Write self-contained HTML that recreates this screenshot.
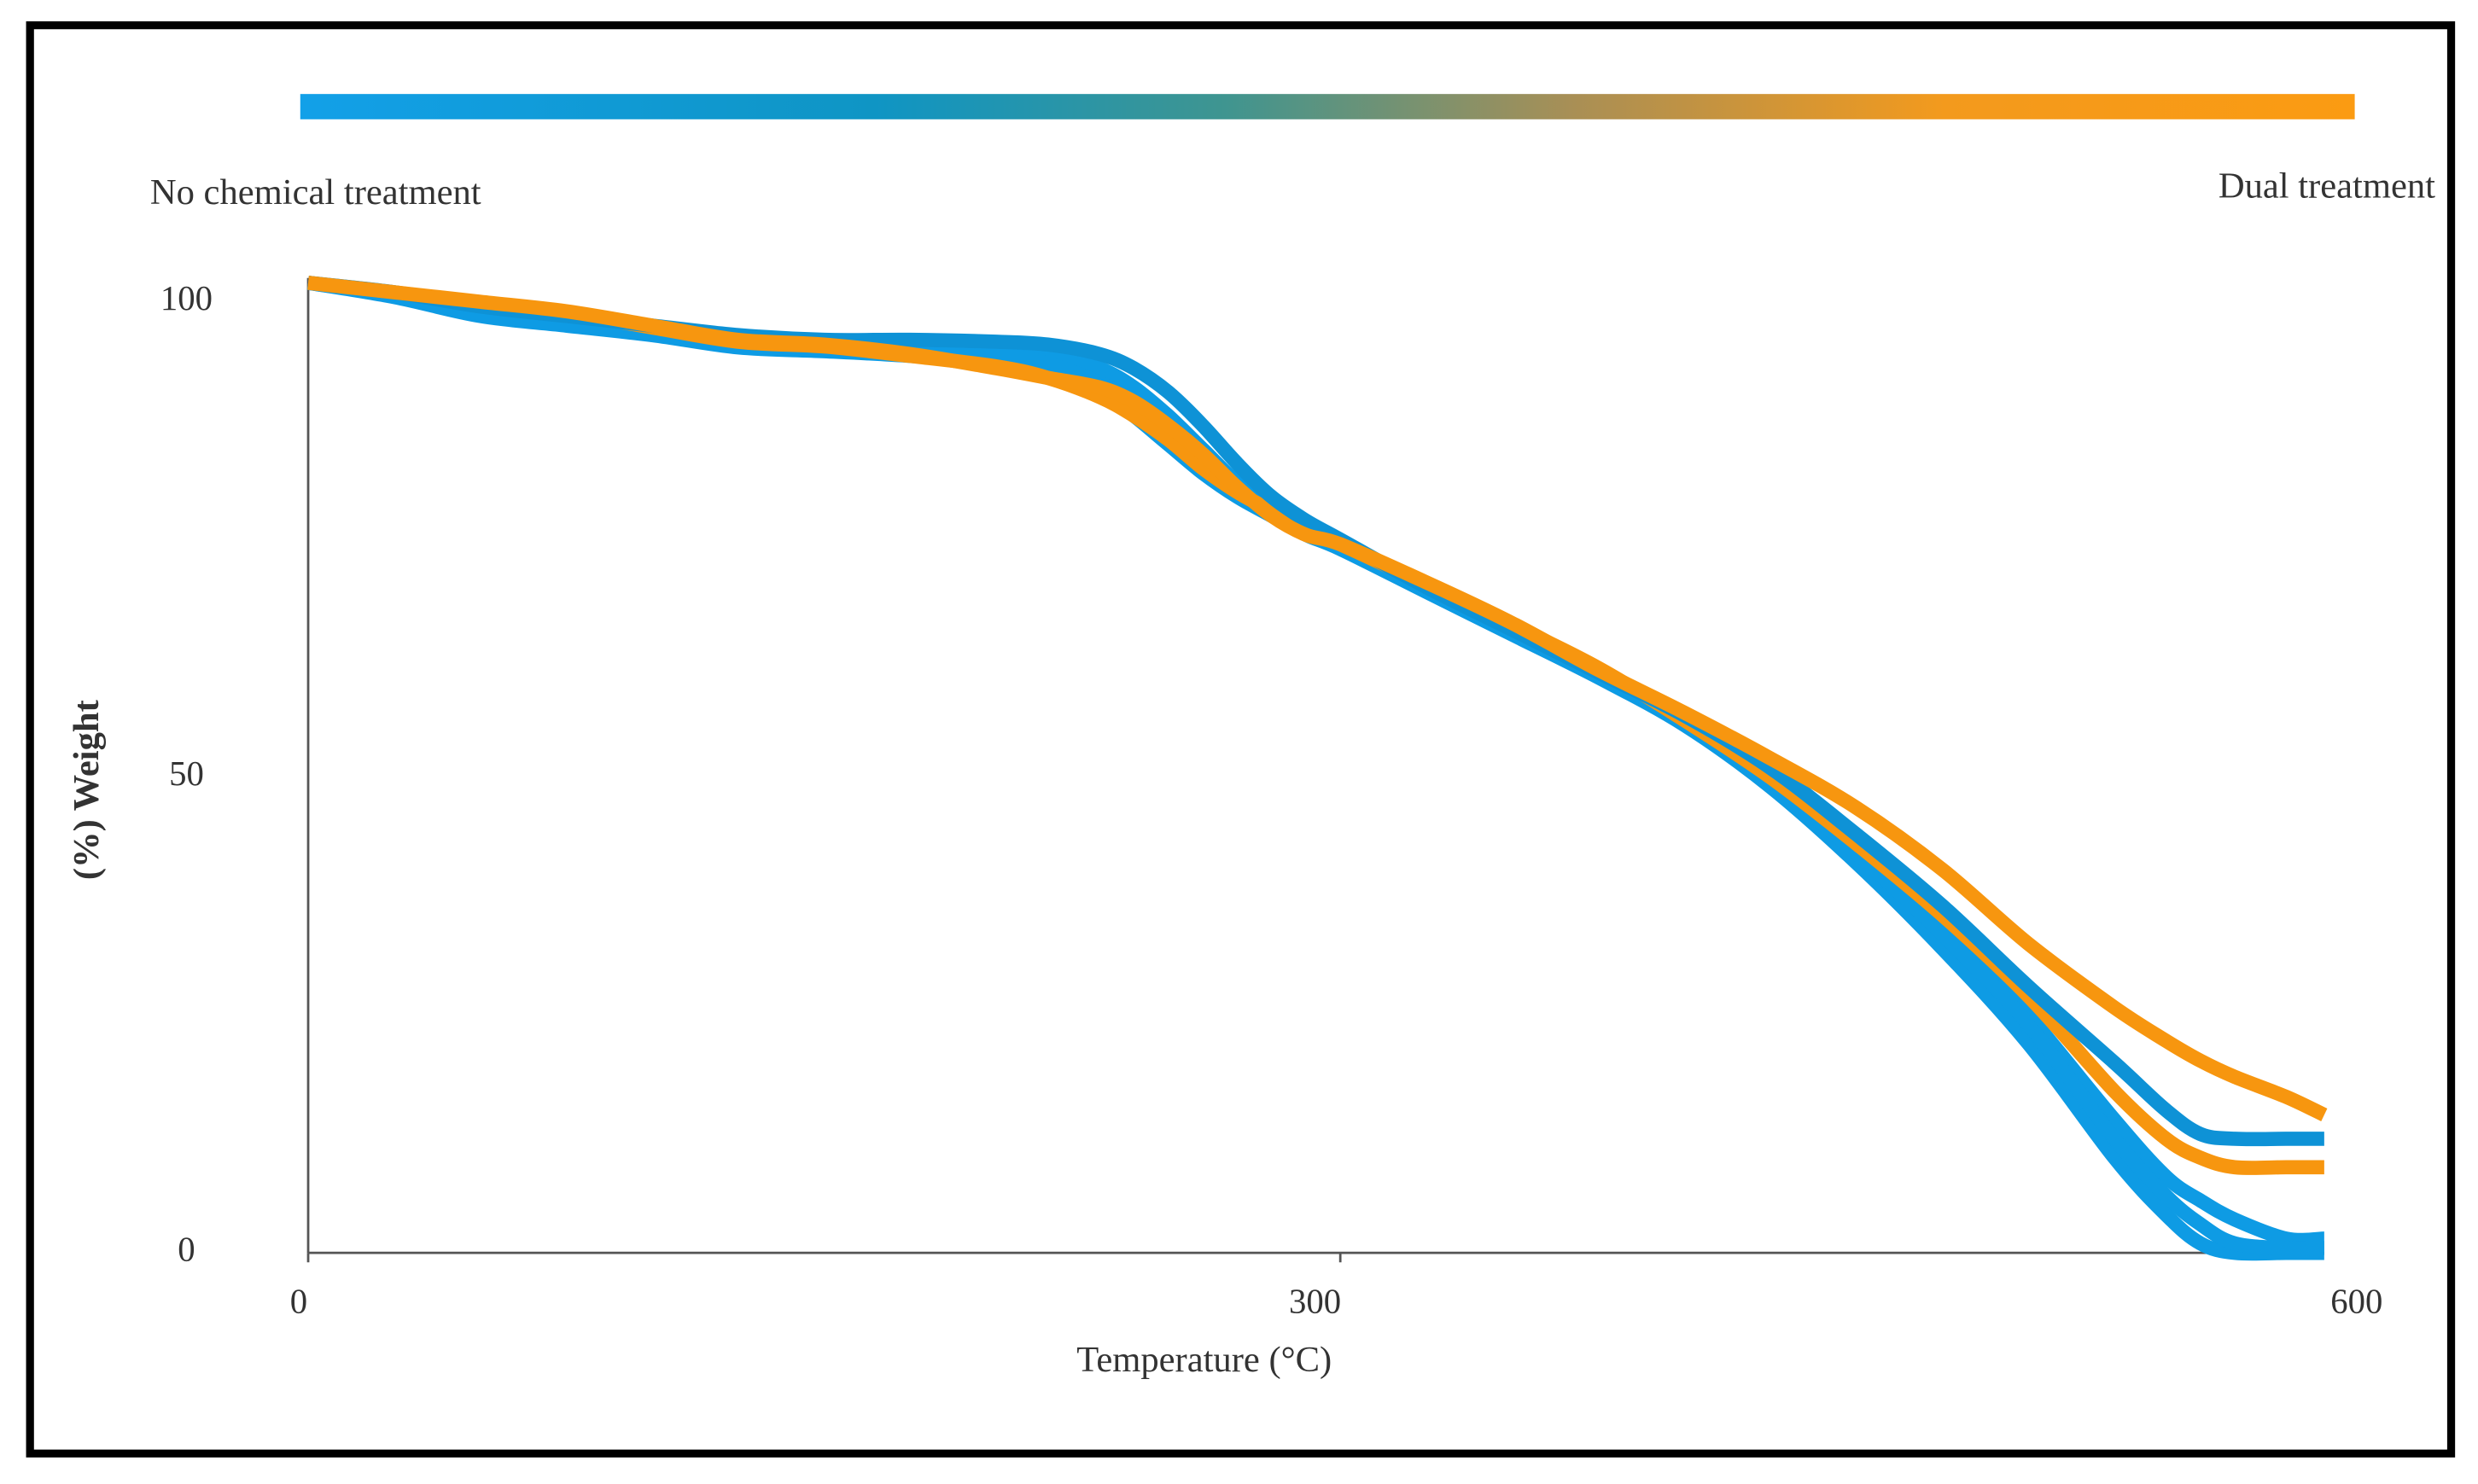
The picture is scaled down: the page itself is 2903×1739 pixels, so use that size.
<!DOCTYPE html>
<html><head><meta charset="utf-8">
<style>
html,body{margin:0;padding:0;background:#fff;}
svg{display:block;}
text{font-family:"Liberation Serif",serif;fill:#333;}
</style></head>
<body>
<svg id="chart" width="2903" height="1739" viewBox="0 0 1568 939.3" preserveAspectRatio="none" xmlns="http://www.w3.org/2000/svg">
<defs>
<linearGradient id="grad" x1="0" x2="1" y1="0" y2="0">
<stop offset="0" stop-color="#12a0e8"/>
<stop offset="0.28" stop-color="#0f95c4"/>
<stop offset="0.45" stop-color="#3f9590"/>
<stop offset="0.62" stop-color="#a98f55"/>
<stop offset="0.8" stop-color="#f39a1d"/>
<stop offset="1" stop-color="#fb9b12"/>
</linearGradient>
</defs>
<rect x="19" y="16" width="1532" height="904" fill="none" stroke="#000" stroke-width="5"/>
<rect x="190" y="59.5" width="1300" height="16" fill="url(#grad)"/>
<text x="95" y="129" font-size="23">No chemical  treatment</text>
<text x="1541" y="125" font-size="23" text-anchor="end">Dual  treatment</text>
<g id="axes"></g>
<g id="series"></g>
<text x="762" y="868" font-size="23" text-anchor="middle">Temperature (°C)</text>
<text transform="translate(62,500) rotate(-90)" font-size="23" text-anchor="middle" font-weight="bold">(%) Weight</text>
</svg>
<script>
const temps = [0,25,50,75,100,125,150,175,200,215,230,240,250,260,270,280,290,300,325,350,375,400,425,450,475,500,525,540,550,560,575,586];
const blueA = [102,100.5,98.5,97.5,96.5,95.2,94.8,94.3,93.5,92.5,90.5,88,85,82,79.5,77.5,75.5,74,69.5,65,60.5,55.5,49,41,32,22,10,4,1,0,0,0];
const blueB = [102,101,99.5,98.5,97.5,96.5,96,96,95.8,95.5,94.5,93,90.5,87,83,79.5,77,75,70,65.5,61,56.5,51,44,36.5,28,20,15,12.5,12,12,12];
const blueC = [102,100.8,99,98,97,95.8,95.5,95.5,95.2,94.5,93,91,88,84.5,81,78.5,76,74.5,70,65.5,61,56,50,43,35,25,14,8,5.5,3.5,1.5,1.5];
const blueD = [102,100.6,98.8,97.7,96.8,95.5,95,94.8,94.5,93.5,91.5,89.5,86.5,83,80,78,75.8,74.2,69.8,65.2,60.8,55.8,49.5,42,33.5,24,12,6,3,1,0.5,0.5];
const orangeE = [102,101,100,99,97.5,96,95.5,94.5,93,92,91,89.5,87,84,80.5,77.5,75.5,74.5,70.5,66.2,61.3,56.8,52,46.8,40.3,32.5,25.8,22.3,20.2,18.5,16.4,14.5];
const orangeF = [102,101,99.8,98.8,97.3,95.8,95.3,94.3,93.2,92,90,88,85.5,82.5,80,78,76,74.5,70.3,66,61.5,56,50,43,35.5,27,17,12,10,9,9,9];
const xTicks = [0,300,600];
const yTicks = [0,50,100];
const seriesList = [
  {name:'series-blue-a', data:blueA, color:'#0e9be4'},
  {name:'series-blue-c', data:blueC, color:'#0e9be4'},
  {name:'series-blue-d', data:blueD, color:'#0e9be4'},
  {name:'series-orange-f', data:orangeF, color:'#f7960f'},
  {name:'series-blue-b', data:blueB, color:'#0e92d6'},
  {name:'series-orange-e', data:orangeE, color:'#f7960f'}
];
const X = t => 195 + t*2.177;
const Y = w => 793 - w*6.02;
const NS='http://www.w3.org/2000/svg';
const axes=document.getElementById('axes');
function mk(tag,attrs,parent){const e=document.createElementNS(NS,tag);for(const k in attrs)e.setAttribute(k,attrs[k]);parent.appendChild(e);return e;}
const ya=mk('line',{x1:X(0),y1:Y(102.5),x2:X(0),y2:Y(0),stroke:'#555','stroke-width':1.5},axes);


const xa=mk('line',{x1:X(0),y1:Y(0),x2:X(586),y2:Y(0),stroke:'#555','stroke-width':1.5},axes);


xTicks.forEach(v=>{
  if(v<600){
    const tk=mk('line',{x1:X(v),y1:Y(0),x2:X(v),y2:Y(0)+6,stroke:'#555','stroke-width':1.5},axes);
    
    
  }
  const tx=mk('text',{x:X(v)-(v===600?10:(v===0?6:16)),y:831,'font-size':22,'text-anchor':'middle'},axes);
  tx.textContent=v;
  
  
});
yTicks.forEach(v=>{
  const tx=mk('text',{x:118,y:Y(v)+5,'font-size':22,'text-anchor':'middle'},axes);
  tx.textContent=v;
  
  
});
function smooth(pts){
  let d='M'+pts[0][0].toFixed(1)+','+pts[0][1].toFixed(1);
  for(let i=0;i<pts.length-1;i++){
    const p0=pts[Math.max(0,i-1)],p1=pts[i],p2=pts[i+1],p3=pts[Math.min(pts.length-1,i+2)];
    const c1x=p1[0]+(p2[0]-p0[0])/6,c1y=p1[1]+(p2[1]-p0[1])/6;
    const c2x=p2[0]-(p3[0]-p1[0])/6,c2y=p2[1]-(p3[1]-p1[1])/6;
    d+=' C'+c1x.toFixed(1)+','+c1y.toFixed(1)+' '+c2x.toFixed(1)+','+c2y.toFixed(1)+' '+p2[0].toFixed(1)+','+p2[1].toFixed(1);
  }
  return d;
}
const sg=document.getElementById('series');
seriesList.forEach(s=>{
  const pts=temps.map((t,i)=>[X(t),Y(s.data[i])]);
  const p=mk('path',{d:smooth(pts),fill:'none',stroke:s.color,'stroke-width':9,'stroke-linejoin':'round'},sg);
  
  
});
</script>
</body></html>
